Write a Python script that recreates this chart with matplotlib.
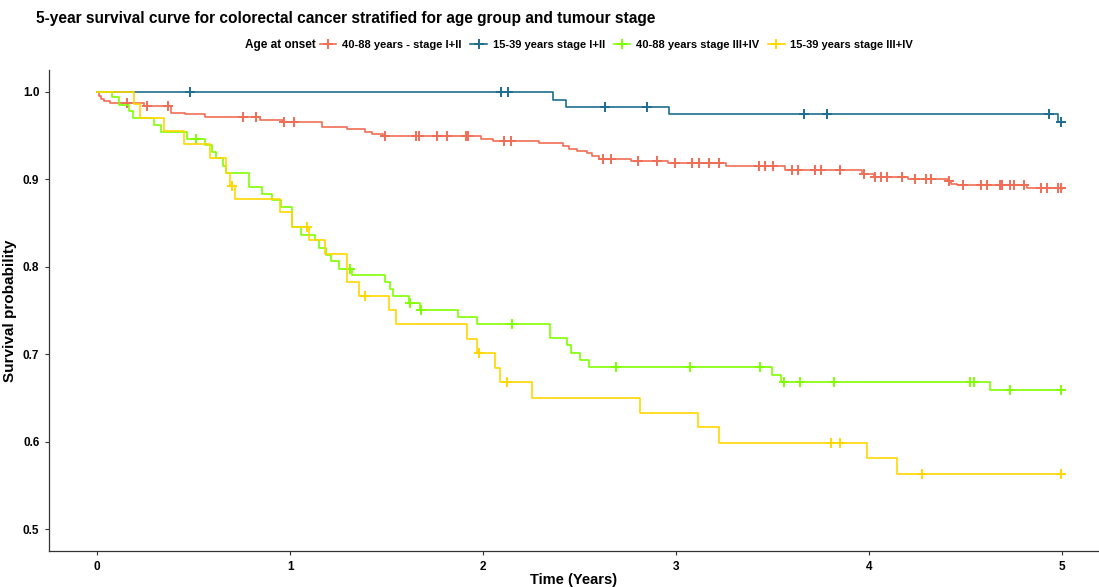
import matplotlib.pyplot as plt
from matplotlib.lines import Line2D
import numpy as np

plt.rcParams['font.family'] = ['Liberation Sans', 'DejaVu Sans']
plt.rcParams['font.weight'] = 'bold'

# group labels and colours
groups = ['40-88 years - stage I+II', '15-39 years stage I+II',
          '40-88 years stage III+IV', '15-39 years stage III+IV']
colors = ['#F06E55', '#1D6E8F', '#7FFF00', '#FFD700']

# event times (years) and survival after each step
old_early_t = [0.0, 0.01, 0.02, 0.035, 0.067, 0.244, 0.383, 0.456, 0.56, 0.845, 0.962,
               1.164, 1.294, 1.389, 1.424, 1.48, 1.99, 2.05, 2.29, 2.413, 2.444, 2.485,
               2.539, 2.565, 2.6, 2.767, 2.957, 3.255, 3.561, 3.964, 4.024, 4.2, 4.408,
               4.421, 4.456, 4.819, 5.0]
old_early_s = [1.0, 0.995, 0.992, 0.989, 0.987, 0.984, 0.976, 0.974, 0.971, 0.968, 0.9655,
               0.96, 0.9575, 0.9545, 0.952, 0.949, 0.9465, 0.944, 0.941, 0.938, 0.935, 0.9325,
               0.93, 0.926, 0.923, 0.9207, 0.918, 0.915, 0.91, 0.906, 0.903, 0.9, 0.898,
               0.895, 0.893, 0.89, 0.889]
old_early_cens = [0.154, 0.26, 0.366, 0.755, 0.82, 0.97, 1.02, 1.49, 1.65, 1.665, 1.76, 1.81,
                  1.91, 1.92, 2.105, 2.145, 2.62, 2.66, 2.80, 2.90, 2.995, 3.08, 3.115, 3.17,
                  3.22, 3.43, 3.46, 3.50, 3.60, 3.63, 3.72, 3.75, 3.85, 3.97, 4.03, 4.06, 4.09,
                  4.17, 4.235, 4.295, 4.32, 4.415, 4.485, 4.577, 4.61, 4.675, 4.69, 4.73, 4.75,
                  4.80, 4.89, 4.92, 4.977, 4.995]

young_early_t = [0.0, 2.36, 2.43, 2.96, 4.975, 5.0]
young_early_s = [1.0, 0.991, 0.983, 0.974, 0.965, 0.965]
young_early_cens = [0.48, 2.09, 2.13, 2.63, 2.85, 3.66, 3.78, 4.93, 4.995]

old_late_t = [0.0, 0.078, 0.115, 0.164, 0.185, 0.294, 0.33, 0.466, 0.56, 0.594, 0.613, 0.651,
              0.668, 0.786, 0.853, 0.905, 0.953, 1.009, 1.054, 1.13, 1.148, 1.187, 1.209,
              1.253, 1.321, 1.489, 1.515, 1.532, 1.613, 1.67, 1.869, 1.969, 2.344, 2.434,
              2.456, 2.5, 2.548, 3.497, 3.54, 4.624, 5.0]
old_late_s = [1.0, 0.994, 0.985, 0.9776, 0.97, 0.9616, 0.954, 0.946, 0.939, 0.931, 0.924, 0.915,
              0.907, 0.8915, 0.8835, 0.876, 0.868, 0.8455, 0.836, 0.83, 0.821, 0.813, 0.806,
              0.797, 0.79, 0.782, 0.7745, 0.766, 0.758, 0.75, 0.743, 0.7346, 0.7183, 0.71,
              0.7016, 0.6933, 0.685, 0.6765, 0.668, 0.6587, 0.6587]
old_late_cens = [0.51, 1.307, 1.618, 1.675, 2.15, 2.686, 3.07, 3.435, 3.56, 3.64, 3.817,
                 4.52, 4.54, 4.73, 4.995]

young_late_t = [0.0, 0.19, 0.219, 0.345, 0.449, 0.582, 0.668, 0.686, 0.715, 0.948, 1.009,
                1.096, 1.18, 1.295, 1.356, 1.51, 1.549, 1.917, 1.969, 2.06, 2.088, 2.254,
                2.813, 3.11, 3.22, 3.986, 4.143, 5.0]
young_late_s = [1.0, 0.986, 0.97, 0.955, 0.94, 0.9245, 0.907, 0.892, 0.877, 0.862, 0.8455,
                0.83, 0.814, 0.782, 0.766, 0.75, 0.734, 0.7175, 0.7013, 0.684, 0.668, 0.65,
                0.633, 0.6165, 0.599, 0.5817, 0.563, 0.563]
young_late_cens = [0.697, 1.086, 1.389, 1.976, 2.124, 3.803, 3.846, 4.275, 4.995]

curves = [(old_early_t, old_early_s, old_early_cens),
          (young_early_t, young_early_s, young_early_cens),
          (old_late_t, old_late_s, old_late_cens),
          (young_late_t, young_late_s, young_late_cens)]

fig = plt.figure(figsize=(10.99, 5.87), dpi=100)
ax = fig.add_axes([0.0446, 0.0613, 0.9554, 0.8197])

for (t, s, c), col in zip(curves, colors):
    t = np.array(t)
    s = np.array(s)
    ax.step(t, s, where='post', color=col, lw=1.2)
    # censor marks sit on the curve value at that time
    idx = np.searchsorted(t, c, side='right') - 1
    ax.plot(c, s[idx], linestyle='none', marker='+', color=col, ms=7, mew=1.4)

ax.set_xlim(-0.25, 5.19)
ax.set_ylim(0.475, 1.025)
ax.set_xticks([0, 1, 2, 3, 4, 5])
ax.set_yticks([0.5, 0.6, 0.7, 0.8, 0.9, 1.0])
ax.set_yticklabels(['0.5', '0.6', '0.7', '0.8', '0.9', '1.0'])
ax.tick_params(labelsize=8.5, length=3, width=0.8, color='#333333', pad=4)
for lab in ax.get_xticklabels() + ax.get_yticklabels():
    lab.set_fontweight('bold')
for side in ['top', 'right']:
    ax.spines[side].set_visible(False)
for side in ['left', 'bottom']:
    ax.spines[side].set_color('#333333')
    ax.spines[side].set_linewidth(0.9)

ax.set_xlabel('Time (Years)', fontsize=10.5, fontweight='bold', labelpad=0)
ax.set_ylabel('Survival probability', fontsize=11, fontweight='bold')
ax.yaxis.set_label_coords(-0.0305, 0.5)

fig.text(0.033, 0.968, '5-year survival curve for colorectal cancer stratified for age group and tumour stage',
         fontsize=11.2, fontweight='bold', va='center', ha='left')

# legend row: title text then the four entries
fig.text(0.223, 0.923, 'Age at onset', fontsize=8.5, fontweight='bold', va='center', ha='left')
handles = [Line2D([], [], color=col, lw=1.2, marker='+', ms=7, mew=1.4) for col in colors]
fig.legend(handles, groups, loc='center left', bbox_to_anchor=(0.291, 0.923), ncol=4,
           frameon=False, handlelength=1.5, handletextpad=0.5, columnspacing=0.8,
           borderpad=0, borderaxespad=0, prop={'weight': 'bold', 'size': 8})

fig.savefig('out.png', dpi=100)
